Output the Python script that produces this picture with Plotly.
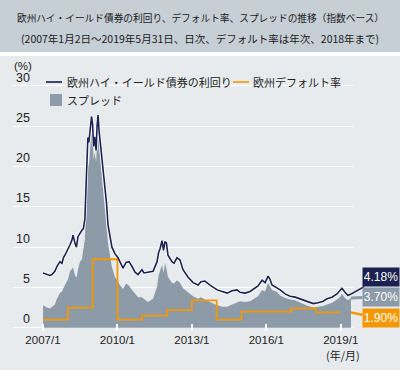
import plotly.graph_objects as go

# ---------------- data ----------------
dates = ["2007-01-02","2007-03-01","2007-04-12","2007-05-12","2007-06-25","2007-07-25","2007-08-17",
         "2007-09-08","2007-10-08","2007-10-30","2007-11-20","2008-01-04","2008-02-03","2008-03-03",
         "2008-03-18","2008-04-16","2008-05-08","2008-05-30","2008-06-28","2008-07-27","2008-08-18",
         "2008-09-09","2008-10-01","2008-10-23","2008-11-06","2008-11-24","2008-12-16","2009-01-01",
         "2009-01-15","2009-01-30","2009-02-21","2009-03-07","2009-03-22","2009-04-05","2009-04-20",
         "2009-05-19","2009-06-10","2009-07-01","2009-07-24","2009-08-15","2009-09-13","2009-10-12",
         "2009-11-25","2010-01-09","2010-02-06","2010-03-24","2010-05-08","2010-06-21","2010-08-04",
         "2010-09-17","2010-10-31","2010-12-28","2011-01-26","2011-03-25","2011-06-09","2011-08-07",
         "2011-08-29","2011-09-20","2011-10-19","2011-11-10","2011-12-02","2011-12-24","2012-01-15",
         "2012-03-14","2012-04-13","2012-05-27","2012-07-10","2012-08-23","2012-11-04","2013-01-18",
         "2013-04-02","2013-05-15","2013-07-12","2013-09-24","2014-01-08","2014-03-22","2014-06-03",
         "2014-08-15","2014-10-27","2014-12-10","2015-02-22","2015-05-07","2015-07-05","2015-09-01",
         "2015-10-31","2015-12-14","2016-01-27","2016-02-25","2016-03-25","2016-05-26","2016-07-23",
         "2016-10-04","2016-12-17","2017-03-01","2017-05-13","2017-08-09","2017-11-22","2018-02-02",
         "2018-04-16","2018-06-13","2018-08-25","2018-11-06","2018-12-20","2019-01-18","2019-03-04",
         "2019-04-17","2019-05-31"]

hy_yield = [6.8,6.6,6.5,6.6,7.0,7.6,8.0,8.2,8.0,8.7,9.0,9.7,10.3,10.9,11.5,10.5,10.0,11.3,11.8,12.1,12.3,
            13.5,18.7,23.6,23.0,24.9,26.2,25.2,22.5,23.7,22.0,25.0,26.4,24.5,23.3,20.8,18.5,17.5,15.5,
            12.8,11.3,10.0,9.2,8.7,8.2,7.4,8.1,8.2,7.6,6.9,6.6,7.2,6.8,6.9,7.0,8.2,9.3,9.8,10.8,9.6,10.7,
            10.5,9.0,8.2,8.0,8.7,8.4,7.2,6.3,5.6,5.3,5.7,5.8,5.3,4.7,4.5,4.3,4.6,4.7,4.4,4.3,4.5,4.8,5.2,
            5.9,5.6,6.4,6.0,5.3,5.0,4.7,4.2,3.9,3.8,3.6,3.3,3.0,3.1,3.3,3.6,3.8,4.2,4.6,4.9,4.4,4.0,4.18]

spread = [2.8,2.5,2.4,2.6,2.9,3.6,3.9,4.3,4.5,5.0,5.3,6.0,7.0,7.3,7.5,6.5,6.2,7.2,8.2,8.5,9.7,
          11.0,16.0,20.5,20.0,22.5,24.5,23.3,20.8,21.8,20.5,23.0,24.6,22.5,21.0,18.5,16.0,14.0,12.5,
          10.5,9.0,7.5,6.3,5.8,5.3,4.8,5.5,5.2,4.7,4.2,3.8,3.8,3.6,3.2,3.6,5.1,6.5,7.2,7.8,6.8,8.0,
          7.3,6.3,5.6,5.5,5.9,5.6,4.9,4.4,3.9,3.6,3.8,3.5,3.2,2.8,2.6,2.6,2.9,3.2,3.3,3.2,3.3,3.6,3.9,
          4.7,4.5,5.6,5.2,4.7,4.5,4.0,3.7,3.5,3.4,3.1,2.8,2.5,2.6,2.7,2.9,3.1,3.5,3.8,4.2,3.7,3.4,3.70]

default_years = ["2007-01-01","2008-01-01","2009-01-01","2010-01-01","2011-01-01","2012-01-01",
                 "2013-01-01","2014-01-01","2015-01-01","2016-01-01","2017-01-01","2018-01-01","2019-01-01"]
default_rate = [1.0,2.5,8.5,1.0,1.5,2.2,3.4,1.0,2.0,2.0,2.4,1.9,1.9]

x_tickvals = ["2007-01-01","2010-01-01","2013-01-01","2016-01-01","2019-01-01"]
x_ticktext = ["2007/1","2010/1","2013/1","2016/1","2019/1"]
y_tickvals = [0,5,10,15,20,25,30]

title1 = "欧州ハイ・イールド債券の利回り、デフォルト率、スプレッドの推移（指数ベース）"
title2 = "(2007年1月2日～2019年5月31日、日次、デフォルト率は年次、2018年まで)"
name_yield = "欧州ハイ・イールド債券の利回り"
name_default = "欧州デフォルト率"
name_spread = "スプレッド"

# ---------------- style ----------------
NAVY = "#1b2150"
ORANGE = "#f39800"
GREY = "#8d9ba8"
BG = "#e8ebee"
BAND = "#c6ced6"
FONT = "Noto Sans CJK JP"

W, H = 400, 370
L, R, T, B = 13, 47, 65, 39
PW, PH = W - L - R, H - T - B

def px(x):
    return (x - L) / PW

def py(y):
    return (H - B - y) / PH

fig = go.Figure()
fig.add_trace(go.Scatter(x=dates, y=spread, mode="lines", fill="tozeroy",
                         line=dict(width=0, color=GREY), fillcolor=GREY,
                         name=name_spread, showlegend=False, hoverinfo="skip"))
fig.add_trace(go.Scatter(x=dates, y=hy_yield, mode="lines",
                         line=dict(width=3.0, color="white"), showlegend=False, hoverinfo="skip"))
fig.add_trace(go.Scatter(x=default_years, y=default_rate, mode="lines", line_shape="hv",
                         line=dict(width=1.8, color=ORANGE), name=name_default, showlegend=False))
fig.add_trace(go.Scatter(x=dates, y=hy_yield, mode="lines",
                         line=dict(width=1.6, color=NAVY), name=name_yield, showlegend=False))

shapes = [
    dict(type="rect", xref="paper", yref="paper", x0=px(0), x1=px(W), y0=py(52), y1=py(0),
         fillcolor=BAND, line_width=0, layer="below"),
    dict(type="rect", xref="paper", yref="paper", x0=px(0), x1=px(W), y0=py(H), y1=py(56),
         fillcolor=BG, line_width=0, layer="below"),
    # legend symbols
    dict(type="line", xref="paper", yref="paper", x0=px(46), x1=px(62), y0=py(82), y1=py(82),
         line=dict(color=NAVY, width=1.6)),
    dict(type="line", xref="paper", yref="paper", x0=px(233), x1=px(249), y0=py(82), y1=py(82),
         line=dict(color=ORANGE, width=1.6)),
    dict(type="rect", xref="paper", yref="paper", x0=px(50), x1=px(62), y0=py(106), y1=py(94),
         fillcolor=GREY, line_width=0),
]

ann = [
    dict(text=title1, x=px(200), y=py(18), xref="paper", yref="paper", showarrow=False,
         xanchor="center", yanchor="middle", font=dict(size=9.7, color="#1a1a1a", family=FONT)),
    dict(text=title2, x=px(200), y=py(39), xref="paper", yref="paper", showarrow=False,
         xanchor="center", yanchor="middle", font=dict(size=10.5, color="#1a1a1a", family=FONT)),
    dict(text="(%)", x=px(23), y=py(66), xref="paper", yref="paper", showarrow=False,
         xanchor="center", yanchor="middle", font=dict(size=11.5, color="#222", family="Liberation Sans")),
    dict(text="(年/月)", x=px(343), y=py(355), xref="paper", yref="paper", showarrow=False,
         xanchor="center", yanchor="middle", font=dict(size=11, color="#222", family=FONT)),
    dict(text=name_yield, x=px(65), y=py(82), xref="paper", yref="paper", showarrow=False,
         xanchor="left", yanchor="middle", font=dict(size=11, color="#222", family=FONT)),
    dict(text=name_default, x=px(251), y=py(82), xref="paper", yref="paper", showarrow=False,
         xanchor="left", yanchor="middle", font=dict(size=11, color="#222", family=FONT)),
    dict(text=name_spread, x=px(65), y=py(100), xref="paper", yref="paper", showarrow=False,
         xanchor="left", yanchor="middle", font=dict(size=11, color="#222", family=FONT)),
    # end labels
    dict(text=f"{hy_yield[-1]:.2f}%", x=dates[-1], y=hy_yield[-1], xref="x", yref="y",
         showarrow=True, arrowhead=0, arrowwidth=1.6, arrowcolor=NAVY, ax=30, ay=-17, standoff=0,
         bgcolor=NAVY, width=34, height=16, borderpad=1,
         font=dict(size=12, color="white", family="Liberation Sans")),
    dict(text=f"{spread[-1]:.2f}%", x=dates[-1], y=spread[-1], xref="x", yref="y",
         showarrow=True, arrowhead=0, arrowwidth=3, arrowcolor=GREY, ax=30, ay=-1, standoff=0,
         bgcolor=GREY, width=34, height=16, borderpad=1,
         font=dict(size=12, color="white", family="Liberation Sans")),
    dict(text=f"{default_rate[-1]:.2f}%", x=dates[-1], y=default_rate[-1], xref="x", yref="y",
         showarrow=True, arrowhead=0, arrowwidth=2.5, arrowcolor=ORANGE, ax=30, ay=6, standoff=0,
         bgcolor=ORANGE, width=34, height=16, borderpad=1,
         font=dict(size=12, color="white", family="Liberation Sans")),
]

FS = "\u2007"
y_ticktext = [(FS + str(v)) if v < 10 else str(v) for v in y_tickvals]

fig.update_layout(
    width=W, height=H,
    margin=dict(l=L, r=R, t=T, b=B, pad=0, autoexpand=False),
    paper_bgcolor="white", plot_bgcolor="rgba(0,0,0,0)",
    shapes=shapes, annotations=ann, showlegend=False,
    font=dict(family=FONT, color="#222"),
    xaxis=dict(type="date", range=["2005-10-17", "2019-06-30"], tickvals=x_tickvals,
               ticktext=x_ticktext, ticks="inside", ticklen=7, tickwidth=1.5, tickcolor="white",
               showgrid=False, zeroline=False, showline=False, automargin=False,
               tickfont=dict(size=11.5, color="#222", family="Liberation Sans")),
    yaxis=dict(range=[-0.4, 32.6], tickvals=y_tickvals, ticktext=y_ticktext, automargin=False,
               ticklabelposition="inside top", showgrid=True, gridcolor="white", gridwidth=1.2,
               zeroline=False, showline=False, ticks="",
               tickfont=dict(size=12.5, color="#222", family="Liberation Sans")),
)

fig.write_html("out.html", config={"displayModeBar": False},
               post_script="document.body.style.margin='0px';document.body.style.overflow='hidden';")
